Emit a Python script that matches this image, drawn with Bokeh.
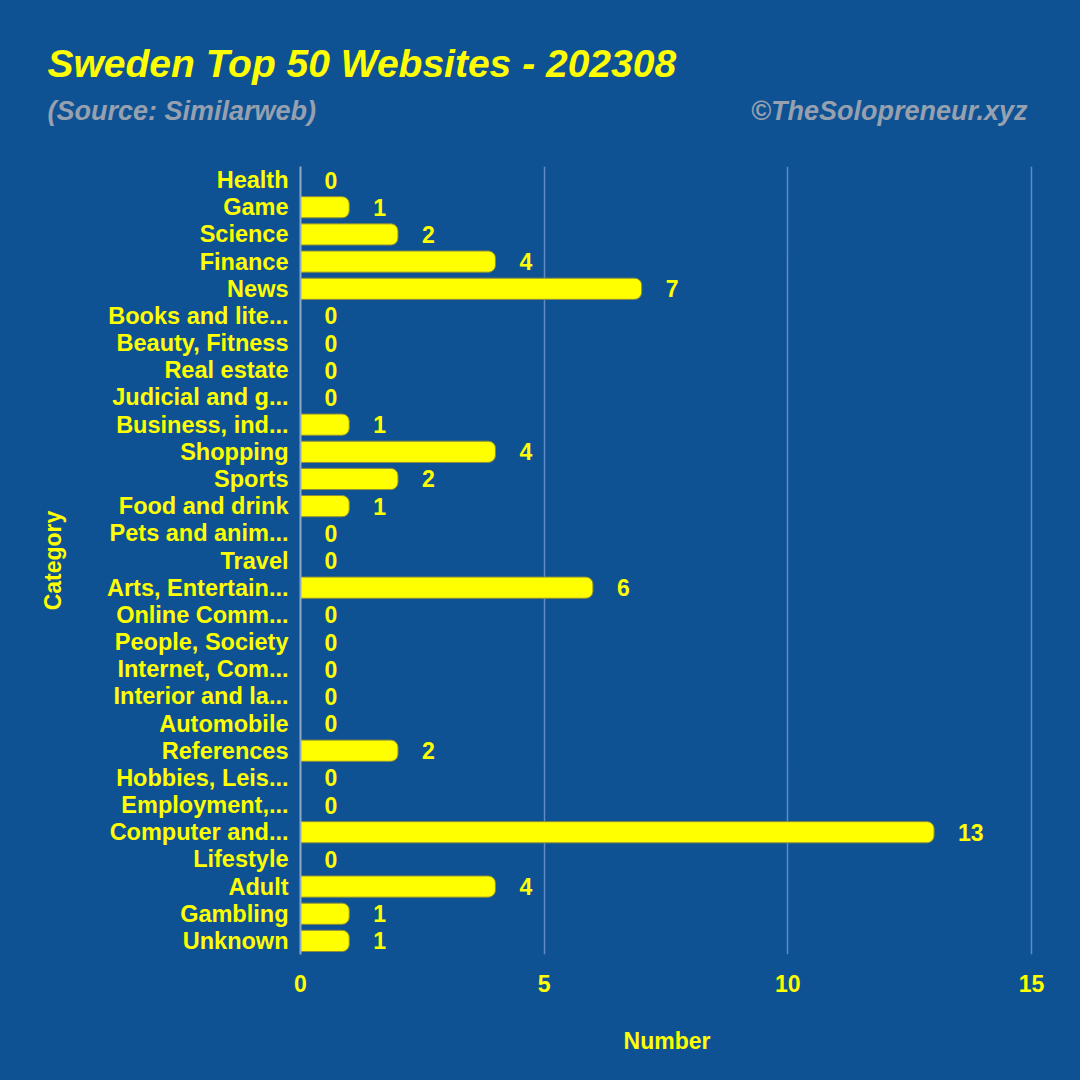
from bokeh.plotting import figure
from bokeh.models import Label, ColumnDataSource, FixedTicker, GlobalInlineStyleSheet
from bokeh.layouts import column
from bokeh.core.properties import value
from bokeh.embed import file_html
from bokeh.resources import INLINE

categories = ["Health", "Game", "Science", "Finance", "News", "Books and lite...",
              "Beauty, Fitness", "Real estate", "Judicial and g...", "Business, ind...",
              "Shopping", "Sports", "Food and drink", "Pets and anim...", "Travel",
              "Arts, Entertain...", "Online Comm...", "People, Society", "Internet, Com...",
              "Interior and la...", "Automobile", "References", "Hobbies, Leis...",
              "Employment,...", "Computer and...", "Lifestyle", "Adult", "Gambling", "Unknown"]
counts = [0, 1, 2, 4, 7, 0, 0, 0, 0, 1, 4, 2, 1, 0, 0, 6, 0, 0, 0, 0, 0, 2, 0, 0, 13, 0, 4, 1, 1]
x_ticks = [0, 5, 10, 15]

title_text = "Sweden Top 50 Websites - 202308"
subtitle_text = "(Source: Similarweb)"
credit_text = "\u00a9TheSolopreneur.xyz"

BG = "#0e5294"
YEL = "#ffff00"
GRAY = "#97a0af"
FONT = "Liberation Sans"

W = 1064
HH = 150           # header height
MH = 1064 - HH     # main figure height
left, right, top, bottom = 300, 31, 166 - HH, 110
x_end = 15.04      # a hair past 15 so the gridline at 15 stays inside the frame

page_css = GlobalInlineStyleSheet(css="html, body { background-color: %s; }" % BG)

# ---- header with title texts ----
hdr = figure(width=W, height=HH, x_range=(0, W), y_range=(0, HH),
             x_axis_type=None, y_axis_type=None, output_backend="svg",
             toolbar_location=None, min_border=0, frame_align=False)
hdr.background_fill_color = BG
hdr.border_fill_color = BG
hdr.outline_line_color = None
hdr.grid.grid_line_color = None
hdr.styles = {"background-color": BG}

def lab(text, fx, fy, size, color, align="left"):
    return Label(x=fx, y=HH - fy, x_units="screen", y_units="screen", text=text,
                 text_font=FONT, text_font_size=size, text_color=color,
                 text_font_style="bold italic", text_align=align,
                 text_baseline="middle")

hdr.add_layout(lab(title_text, 47, 62.5, "39px", YEL))
hdr.add_layout(lab(subtitle_text, 47, 110, "27px", GRAY))
hdr.add_layout(lab(credit_text, 1027, 110, "27px", GRAY, align="right"))

# ---- main chart ----
p = figure(width=W, height=MH, y_range=list(reversed(categories)), x_range=(0, x_end),
           output_backend="svg", toolbar_location=None, frame_align=False,
           min_border_left=left, min_border_right=right,
           min_border_top=top, min_border_bottom=bottom)
p.background_fill_color = BG
p.border_fill_color = BG
p.outline_line_color = None
p.styles = {"background-color": BG}

src = ColumnDataSource(dict(cat=categories, n=counts, lbl=[str(c) for c in counts]))
p.hbar(y="cat", right="n", left=0, height=0.78, source=src, fill_color=YEL,
       line_color="#8c8c3c", line_width=1, border_radius=(0, 7, 7, 0))
p.text(x="n", y="cat", text="lbl", source=src, x_offset=24, text_align="left",
       text_baseline="middle", text_color=YEL, text_font=value(FONT),
       text_font_style="bold", text_font_size="23px")

p.ygrid.grid_line_color = None
p.xgrid.ticker = FixedTicker(ticks=x_ticks)
p.xgrid.grid_line_color = "#5f8cc2"
p.xgrid.grid_line_width = 1.5

xa = p.xaxis[0]
xa.ticker = FixedTicker(ticks=x_ticks)
xa.axis_line_color = None
xa.major_tick_line_color = None
xa.minor_tick_line_color = None
xa.major_tick_out = 0
xa.major_label_standoff = 20
xa.major_label_text_color = YEL
xa.major_label_text_font = FONT
xa.major_label_text_font_style = "bold"
xa.major_label_text_font_size = "23px"
xa.axis_label = "Number"
xa.axis_label_text_color = YEL
xa.axis_label_text_font = FONT
xa.axis_label_text_font_style = "bold"
xa.axis_label_text_font_size = "23px"
xa.axis_label_standoff = 33

ya = p.yaxis[0]
ya.axis_line_color = "#8fa8c6"
ya.axis_line_width = 2
ya.major_tick_line_color = None
ya.minor_tick_line_color = None
ya.major_tick_out = 0
ya.major_label_standoff = 12
ya.major_label_text_color = YEL
ya.major_label_text_font = FONT
ya.major_label_text_font_style = "bold"
ya.major_label_text_font_size = "23.5px"
ya.axis_label = "Category"
ya.axis_label_text_color = YEL
ya.axis_label_text_font = FONT
ya.axis_label_text_font_style = "bold"
ya.axis_label_text_font_size = "23px"
ya.axis_label_standoff = 38

layout = column(hdr, p, spacing=0, styles={"background-color": BG},
                stylesheets=[page_css])
open("out.html", "w").write(file_html(layout, INLINE))
